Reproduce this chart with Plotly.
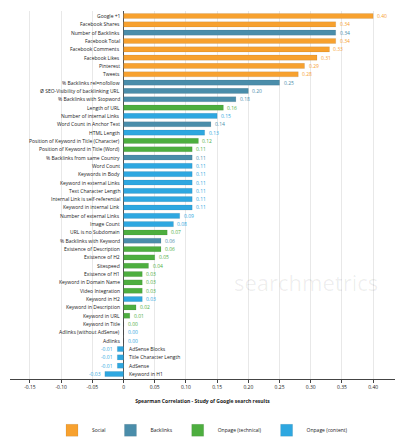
import plotly.graph_objects as go

# data, top to bottom
factors = [
    "Google +1", "Facebook Shares", "Number of Backlinks", "Facebook Total",
    "Facebook Comments", "Facebook Likes", "Pinterest", "Tweets",
    "% Backlinks rel=nofollow", "Ø SEO-Visibility of backlinking URL",
    "% Backlinks with Stopword", "Length of URL", "Number of internal Links",
    "Word Count in Anchor Text", "HTML Length",
    "Position of Keyword in Title (Character)", "Position of Keyword in Title (Word)",
    "% Backlinks from same Country", "Word Count", "Keywords in Body",
    "Keyword in external Links", "Text Character Length",
    "Internal Link is self-referential", "Keyword in internal Link",
    "Number of external Links", "Image Count", "URL is no Subdomain",
    "% Backlinks with Keyword", "Existence of Description", "Existence of H2",
    "Sitespeed", "Existence of H1", "Keyword in Domain Name", "Video Integration",
    "Keyword in H2", "Keyword in Description", "Keyword in URL", "Keyword in Title",
    "Adlinks (without AdSense)", "Adlinks", "AdSense Blocks",
    "Title Character Length", "AdSense", "Keyword in H1",
]
values = [
    0.40, 0.34, 0.34, 0.34, 0.33, 0.31, 0.29, 0.28, 0.25, 0.20, 0.18, 0.16,
    0.15, 0.14, 0.13, 0.12, 0.11, 0.11, 0.11, 0.11, 0.11, 0.11, 0.11, 0.11,
    0.09, 0.08, 0.07, 0.06, 0.06, 0.05, 0.04, 0.03, 0.03, 0.03, 0.03, 0.02,
    0.01, 0.00, 0.00, 0.00, -0.01, -0.01, -0.01, -0.03,
]
groups = [
    "Social", "Social", "Backlinks", "Social", "Social", "Social", "Social", "Social",
    "Backlinks", "Backlinks", "Backlinks", "Onpage (technical)", "Onpage (content)",
    "Backlinks", "Onpage (content)", "Onpage (technical)", "Onpage (technical)",
    "Backlinks", "Onpage (content)", "Onpage (content)", "Onpage (content)",
    "Onpage (content)", "Onpage (content)", "Onpage (content)", "Onpage (content)",
    "Onpage (content)", "Onpage (technical)", "Backlinks", "Onpage (technical)",
    "Onpage (technical)", "Onpage (technical)", "Onpage (technical)",
    "Onpage (technical)", "Onpage (technical)", "Onpage (content)",
    "Onpage (technical)", "Onpage (technical)", "Onpage (technical)",
    "Onpage (content)", "Onpage (content)", "Onpage (content)", "Onpage (content)",
    "Onpage (content)", "Onpage (content)",
]
group_names = ["Social", "Backlinks", "Onpage (technical)", "Onpage (content)"]
group_colors = ["#F7A12F", "#4A8DAA", "#4DAE3F", "#2EA7E0"]
x_ticks = [-0.15, -0.10, -0.05, 0, 0.05, 0.10, 0.15, 0.20, 0.25, 0.30, 0.35, 0.40]

colmap = dict(zip(group_names, group_colors))
fnt = "Open Sans"

fig = go.Figure()
for g in group_names:
    ys = [f for f, gg in zip(factors, groups) if gg == g]
    xs = [v for v, gg in zip(values, groups) if gg == g]
    fig.add_trace(go.Bar(
        x=xs, y=ys, orientation="h", name=g,
        marker=dict(color=colmap[g], line=dict(color="rgba(0,0,0,0.15)", width=0.5)),
        width=0.62,
    ))

# category labels and value labels
for f, v, g in zip(factors, values, groups):
    c = colmap[g]
    if v >= 0:
        fig.add_annotation(x=0, y=f, text=f, xanchor="right", xshift=-2,
                           showarrow=False, font=dict(size=5, color="#222"))
        fig.add_annotation(x=v, y=f, text=f"{v:.2f}", xanchor="left", xshift=2,
                           showarrow=False, font=dict(size=5, color=c))
    else:
        fig.add_annotation(x=0, y=f, text=f, xanchor="left", xshift=3,
                           showarrow=False, font=dict(size=5, color="#222"))
        fig.add_annotation(x=v, y=f, text=f"{v:.2f}", xanchor="right", xshift=-2,
                           showarrow=False, font=dict(size=5, color=c))

fig.add_annotation(x=0.292, y="Keyword in Domain Name", text="searchmetrics", showarrow=False,
                   font=dict(size=22, color="rgba(0,0,0,0.07)", family=fnt))

fig.update_layout(
    width=403, height=439,
    margin=dict(l=2, r=16, t=3, b=54),
    plot_bgcolor="white", paper_bgcolor="white",
    font=dict(family=fnt, size=5, color="#222"),
    barmode="overlay", showlegend=True,
    legend=dict(orientation="h", x=0.5, xanchor="center", y=-0.1, yanchor="top",
                font=dict(size=5), itemwidth=30),
    xaxis=dict(range=[-0.182, 0.435], tickvals=x_ticks,
               ticktext=["0" if t == 0 else f"{t:.2f}" for t in x_ticks],
               showgrid=True, gridcolor="#e8e8e8", zeroline=True,
               zerolinecolor="#555", zerolinewidth=1,
               showline=True, linecolor="#444", ticks="outside", ticklen=3,
               tickfont=dict(size=5, color="#222"),
               title=dict(text="<b>Spearman Correlation - Study of Google search results</b>",
                          font=dict(size=5), standoff=10)),
    yaxis=dict(categoryorder="array", categoryarray=factors[::-1],
               showticklabels=False, showgrid=False, range=[-0.6, len(factors) - 0.4]),
)

fig.write_html("out.html")
